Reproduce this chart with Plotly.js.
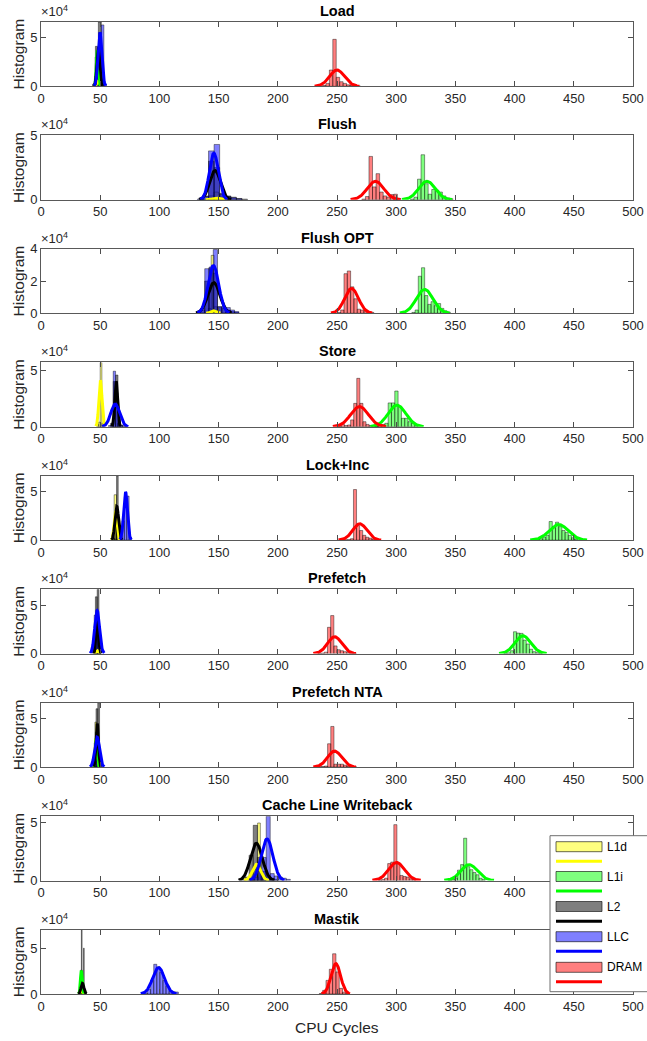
<!DOCTYPE html>
<html><head><meta charset="utf-8">
<script src="https://cdn.plot.ly/plotly-3.0.1.min.js"></script>
<style>html,body{margin:0;padding:0;background:#fff}#chart{width:647px;height:1041px}</style>
</head><body><div id="chart"></div>
<script>
// ---------------- DATA ----------------
const categories = ['L1d', 'L1i', 'L2', 'LLC', 'DRAM'];
const panelTitles = ['Load', 'Flush', 'Flush OPT', 'Store', 'Lock+Inc', 'Prefetch', 'Prefetch NTA', 'Cache Line Writeback', 'Mastik'];
const yMax = [66000, 50000, 40000, 56800, 66600, 66800, 66500, 55800, 71000];
const yTickVals = [[0, 50000], [0, 50000], [0, 20000, 40000], [0, 50000], [0, 50000], [0, 50000], [0, 50000], [0, 50000], [0, 50000]];
const yTickText = [['0', '5'], ['0', '5'], ['0', '2', '4'], ['0', '5'], ['0', '5'], ['0', '5'], ['0', '5'], ['0', '5'], ['0', '5']];
const xTickVals = [0, 50, 100, 150, 200, 250, 300, 350, 400, 450, 500];
const xLabel = 'CPU Cycles';
const yLabel = 'Histogram';
const expBase = '×10';
const expPower = '4';

// Load
const loadL1dBins = [46, 48, 50];            const loadL1dCounts = [5000, 15000, 5000];
const loadL1iBins = [46.5, 48];              const loadL1iCounts = [30000, 15000];
const loadL2Bins = [44.7, 47.2, 49.7, 52.2]; const loadL2Counts = [2000, 41000, 66000, 3000];
const loadLlcBins = [45.4, 47.6, 49.8, 52, 54.2]; const loadLlcCounts = [3000, 25000, 55000, 63000, 2000];
const loadDramBins = [239.2, 242.1, 245, 247.9, 250.8, 253.7, 256.6, 259.5, 262.4, 265.3, 268.2];
const loadDramCounts = [1000, 3000, 16700, 48200, 9200, 4700, 3000, 1500, 1000, 600, 400];
// Flush
const flushL1dBins = [144, 148, 152];        const flushL1dCounts = [3000, 6000, 2000];
const flushL1iBins = [313.5, 316.5, 319.5, 322.5, 325.5, 328.5, 331.5, 334.5, 337.5, 340.5, 343.5, 346.5];
const flushL1iCounts = [500, 2000, 16000, 35000, 12500, 4300, 8000, 7400, 6000, 3000, 1500, 800];
const flushL2Bins = [139.15, 143.85, 148.55, 153.25, 157.95, 162.65, 167.35, 172.05];
const flushL2Counts = [3000, 30000, 25000, 5000, 3000, 2000, 1000, 500];
const flushLlcBins = [134.45, 139.15, 143.85, 148.55, 153.25, 157.95, 162.65, 167.35];
const flushLlcCounts = [500, 2500, 38000, 43000, 4000, 2500, 1500, 800];
const flushDramBins = [272.5, 275.5, 278.5, 281.5, 284.5, 287.5, 290.5, 293.5, 296.5, 299.5, 302.5];
const flushDramCounts = [500, 2500, 33700, 10000, 20300, 6000, 3000, 2000, 4000, 4300, 1000];
// Flush OPT
const flushOptL1dBins = [142.5, 145, 147.5]; const flushOptL1dCounts = [3000, 36000, 4000];
const flushOptL1iBins = [314.6, 317.3, 320, 322.7, 325.4, 328.1, 330.8, 333.5, 336.2, 338.9, 341.6, 344.3];
const flushOptL1iCounts = [500, 2000, 23000, 28300, 11000, 5500, 7200, 4700, 6000, 3000, 1500, 700];
const flushOptL2Bins = [136.5, 140.1, 143.7, 147.3, 150.9, 154.5, 158.1, 161.7, 165.3];
const flushOptL2Counts = [2000, 20000, 28000, 25000, 4000, 3000, 2000, 1000, 500];
const flushOptLlcBins = [132.9, 136.5, 140.1, 143.7, 147.3, 150.9, 154.5, 158.1, 161.7, 165.3];
const flushOptLlcCounts = [500, 3000, 27700, 28700, 39600, 4000, 4000, 3500, 2000, 1000];
const flushOptDramBins = [251.7, 254.5, 257.3, 260.1, 262.9, 265.7, 268.5, 271.3, 274.1, 276.9, 279.7];
const flushOptDramCounts = [500, 2000, 24600, 26300, 16400, 9000, 2500, 2000, 1500, 800, 500];
// Store
const storeL1dBins = [47.9, 49.3, 50.7, 52.1]; const storeL1dCounts = [2000, 4000, 56800, 3000];
const storeL1iBins = [283.4, 286.2, 289, 291.8, 294.6, 297.4, 300.2, 303, 305.8, 308.6, 311.4, 314.2, 317];
const storeL1iCounts = [500, 1000, 2000, 3000, 21000, 21000, 31500, 18000, 7400, 7400, 4400, 3000, 1000];
const storeL2Bins = [60, 62, 64, 66, 68];    const storeL2Counts = [3000, 40000, 45600, 3000, 1000];
const storeLlcBins = [58, 60, 62, 64, 66, 68, 70, 72]; const storeLlcCounts = [1000, 3000, 49000, 30000, 3000, 1500, 800, 500];
const storeDramBins = [252.4, 255, 257.6, 260.2, 262.8, 265.4, 268, 270.6, 273.2, 275.8, 278.4, 281, 283.6];
const storeDramCounts = [500, 2000, 1000, 1500, 6000, 20600, 42700, 20600, 4400, 2000, 1000, 800, 500];
// Lock+Inc
const lockL1dBins = [60.8, 62.8, 64.8];      const lockL1dCounts = [5000, 47000, 10000];
const lockL1iBins = [417, 419.7, 422.4, 425.1, 427.8, 430.5, 433.2, 435.9, 438.6, 441.3, 444, 446.7, 449.4, 452.1];
const lockL1iCounts = [300, 800, 1500, 3000, 5000, 19300, 14000, 18600, 14000, 10000, 8000, 5000, 2500, 1000];
const lockL2Bins = [61.7, 63.1, 64.5, 65.9, 67.3]; const lockL2Counts = [2000, 15000, 66600, 8000, 2000];
const lockLlcBins = [67.4, 69.4, 71.4, 73.4, 75.4]; const lockLlcCounts = [2000, 20000, 45000, 45600, 3000];
const lockDramBins = [257.4, 260, 262.6, 265.2, 267.8, 270.4, 273, 275.6, 278.2, 280.8, 283.4];
const lockDramCounts = [300, 500, 1500, 52400, 15000, 10000, 5000, 3000, 2000, 1000, 500];
// Prefetch
const prefL1dBins = [46.5, 48];              const prefL1dCounts = [3000, 2000];
const prefL1iBins = [392.3, 395, 397.7, 400.4, 403.1, 405.8, 408.5, 411.2, 413.9, 416.6, 419.3, 422];
const prefL1iCounts = [300, 800, 3000, 22700, 21300, 21000, 14000, 10000, 4500, 2000, 1000, 500];
const prefL2Bins = [45.2, 46.7, 48.2, 49.7]; const prefL2Counts = [5000, 59000, 66800, 4000];
const prefLlcBins = [44.2, 45.7, 47.2, 48.7, 50.2]; const prefLlcCounts = [10000, 40000, 45000, 30000, 5000];
const prefDramBins = [235.2, 237.9, 240.6, 243.3, 246, 248.7, 251.4, 254.1, 256.8, 259.5, 262.2, 264.9];
const prefDramCounts = [300, 500, 1500, 27300, 39500, 8000, 4000, 3000, 2000, 1000, 800, 500];
// Prefetch NTA
const ntaL1dBins = [44.8, 46.3, 47.8];       const ntaL1dCounts = [5000, 46500, 10000];
const ntaL1iBins = [45.2, 46.7, 48.2];       const ntaL1iCounts = [3000, 36000, 8000];
const ntaL2Bins = [45.7, 47.2, 48.7, 50.2];  const ntaL2Counts = [5000, 60300, 66500, 3000];
const ntaLlcBins = [44.2, 45.7, 47.2, 48.7, 50.2]; const ntaLlcCounts = [8000, 25000, 31000, 25000, 5000];
const ntaDramBins = [235.3, 238, 240.7, 243.4, 246.1, 248.8, 251.5, 254.2, 256.9, 259.6, 262.3, 265];
const ntaDramCounts = [300, 500, 1000, 24100, 42000, 3000, 3000, 3000, 2000, 1000, 700, 400];
// Cache Line Writeback
const clwL1dBins = [177.2, 179.5, 181.8, 184.1, 186.4, 188.7]; const clwL1dCounts = [1000, 3000, 10000, 49900, 8000, 2000];
const clwL1iBins = [345.25, 347.85, 350.45, 353.05, 355.65, 358.25, 360.85, 363.45, 366.05, 368.65, 371.25, 373.85];
const clwL1iCounts = [300, 1000, 2000, 9000, 13800, 36700, 12000, 9400, 7000, 5000, 2000, 800];
const clwL2Bins = [170.5, 174, 177.5, 181, 184.5, 188, 191.5, 195, 198.5];
const clwL2Counts = [1000, 3000, 22000, 47900, 20000, 8000, 3000, 2000, 1000];
const clwLlcBins = [178.3, 181.7, 185.1, 188.5, 191.9, 195.3, 198.7, 202.1, 205.5, 208.9];
const clwLlcCounts = [1000, 3000, 8000, 20000, 55800, 6000, 4000, 3000, 2000, 1000];
const clwDramBins = [286.3, 288.9, 291.5, 294.1, 296.7, 299.3, 301.9, 304.5, 307.1, 309.7, 312.3, 314.9];
const clwDramCounts = [300, 800, 2000, 14700, 16000, 48500, 14700, 4400, 3500, 3000, 1500, 800];
// Mastik
const mastikL1dBins = [33.5, 34.5];          const mastikL1dCounts = [5000, 3000];
const mastikL1iBins = [32.7, 34.1, 35.5];    const mastikL1iCounts = [2000, 26200, 1000];
const mastikL2Bins = [34.4, 35, 35.6, 36.2]; const mastikL2Counts = [71000, 8000, 3000, 50600];
const mastikLlcBins = [86.1, 88.7, 91.3, 93.9, 96.5, 99.1, 101.7, 104.3, 106.9, 109.5, 112.1, 114.7];
const mastikLlcCounts = [300, 800, 5000, 15000, 32800, 29900, 24000, 15000, 9000, 3000, 2500, 2200];
const mastikDramBins = [236.5, 239.3, 242.1, 244.9, 247.7, 250.5, 253.3, 256.1, 258.9];
const mastikDramCounts = [500, 4000, 15000, 27300, 44400, 24400, 6200, 2000, 500];

// Normal-fit parameters (one value per panel, panel order as panelTitles)
const fitMuL1d    = [48, 148, 145.5, 50.2, 63, 47.5, 46.5, 182, 34];
const fitSigmaL1d = [1, 3, 2, 1.3, 1.2, 1, 1, 3.5, 0.8];
const fitPeakL1d  = [5000, 1200, 1500, 41000, 30000, 3000, 30000, 14000, 4000];
const fitMuL1i    = [47.5, 326, 324, 300.7, 437.2, 407, 46.7, 361.6, 34];
const fitSigmaL1i = [0.8, 7, 7, 7.5, 8, 6.7, 0.8, 7, 0.7];
const fitPeakL1i  = [37000, 14300, 14800, 19000, 16200, 18500, 30000, 13800, 26000];
const fitMuL2     = [48.5, 147, 146, 63.5, 64, 47.5, 47.5, 181.9, 35];
const fitSigmaL2  = [1.2, 4.5, 5, 1.2, 1.5, 1, 1, 5, 1.2];
const fitPeakL2   = [40000, 22700, 19000, 40000, 35000, 40000, 45000, 32300, 11700];
const fitMuLlc    = [49.8, 146, 145.6, 62.7, 71.4, 47.4, 47.4, 190.9, 99.3];
const fitSigmaLlc = [1.6, 3.8, 4.5, 3.7, 1.6, 2, 2, 4.9, 5];
const fitPeakLlc  = [55400, 36200, 29700, 20000, 50000, 44800, 31000, 36100, 29100];
const fitMuDram   = [250, 282.5, 262.3, 269, 269.3, 248, 248, 300.3, 249];
const fitSigmaDram= [6.3, 7, 5.8, 7.5, 6, 6, 6, 6.8, 4];
const fitPeakDram = [16700, 14300, 15400, 17700, 16900, 17500, 16500, 15600, 33500];

// ---------------- ASSEMBLY ----------------
const hist = [
  [[loadL1dBins, loadL1dCounts], [loadL1iBins, loadL1iCounts], [loadL2Bins, loadL2Counts], [loadLlcBins, loadLlcCounts], [loadDramBins, loadDramCounts]],
  [[flushL1dBins, flushL1dCounts], [flushL1iBins, flushL1iCounts], [flushL2Bins, flushL2Counts], [flushLlcBins, flushLlcCounts], [flushDramBins, flushDramCounts]],
  [[flushOptL1dBins, flushOptL1dCounts], [flushOptL1iBins, flushOptL1iCounts], [flushOptL2Bins, flushOptL2Counts], [flushOptLlcBins, flushOptLlcCounts], [flushOptDramBins, flushOptDramCounts]],
  [[storeL1dBins, storeL1dCounts], [storeL1iBins, storeL1iCounts], [storeL2Bins, storeL2Counts], [storeLlcBins, storeLlcCounts], [storeDramBins, storeDramCounts]],
  [[lockL1dBins, lockL1dCounts], [lockL1iBins, lockL1iCounts], [lockL2Bins, lockL2Counts], [lockLlcBins, lockLlcCounts], [lockDramBins, lockDramCounts]],
  [[prefL1dBins, prefL1dCounts], [prefL1iBins, prefL1iCounts], [prefL2Bins, prefL2Counts], [prefLlcBins, prefLlcCounts], [prefDramBins, prefDramCounts]],
  [[ntaL1dBins, ntaL1dCounts], [ntaL1iBins, ntaL1iCounts], [ntaL2Bins, ntaL2Counts], [ntaLlcBins, ntaLlcCounts], [ntaDramBins, ntaDramCounts]],
  [[clwL1dBins, clwL1dCounts], [clwL1iBins, clwL1iCounts], [clwL2Bins, clwL2Counts], [clwLlcBins, clwLlcCounts], [clwDramBins, clwDramCounts]],
  [[mastikL1dBins, mastikL1dCounts], [mastikL1iBins, mastikL1iCounts], [mastikL2Bins, mastikL2Counts], [mastikLlcBins, mastikLlcCounts], [mastikDramBins, mastikDramCounts]]
];
const fits = [
  [fitMuL1d, fitSigmaL1d, fitPeakL1d], [fitMuL1i, fitSigmaL1i, fitPeakL1i], [fitMuL2, fitSigmaL2, fitPeakL2],
  [fitMuLlc, fitSigmaLlc, fitPeakLlc], [fitMuDram, fitSigmaDram, fitPeakDram]
];

const faceColors = ['rgba(255,255,0,0.5)', 'rgba(0,255,0,0.5)', 'rgba(0,0,0,0.5)', 'rgba(0,0,255,0.5)', 'rgba(255,0,0,0.5)'];
const lineColors = ['#ffff00', '#00ff00', '#000000', '#0000ff', '#ff0000'];
const edgeColor = 'rgba(0,0,0,0.7)';

const W = 647, H = 1041, ML = 41, MR = 14, MT = 22, MB = 47;
const PW = W - ML - MR, PH = H - MT - MB;
const firstTop = 22, plotH = 64.3, pitch = 113.46;
const FONT = 'Liberation Sans, Arial, Helvetica, sans-serif';
const TXT = '#262626';
function yp(py) { return (H - MB - py) / PH; }
function xp(px) { return (px - ML) / PW; }

const traces = [];
const layout = {
  width: W, height: H, margin: {l: ML, r: MR, t: MT, b: MB},
  paper_bgcolor: '#fff', plot_bgcolor: '#fff', showlegend: false, barmode: 'overlay',
  font: {family: FONT, size: 13, color: TXT},
  annotations: [], shapes: []
};

panelTitles.forEach((title, k) => {
  const sfx = k === 0 ? '' : String(k + 1);
  const top = firstTop + k * pitch, bot = top + plotH;
  layout['xaxis' + sfx] = {
    domain: [0, 1], anchor: 'y' + sfx, range: [0, 500], tickvals: xTickVals,
    ticks: 'inside', ticklen: 5, tickwidth: 1, tickcolor: '#4d4d4d',
    showline: true, linecolor: '#595959', linewidth: 1, mirror: 'ticks',
    showgrid: false, zeroline: false, tickfont: {family: FONT, size: 13, color: TXT}, fixedrange: true
  };
  layout['yaxis' + sfx] = {
    domain: [yp(bot), yp(top)], anchor: 'x' + sfx, range: [0, yMax[k]],
    tickvals: yTickVals[k], ticktext: yTickText[k],
    ticks: 'inside', ticklen: 5, tickwidth: 1, tickcolor: '#4d4d4d',
    showline: true, linecolor: '#595959', linewidth: 1, mirror: 'ticks',
    showgrid: false, zeroline: false, tickfont: {family: FONT, size: 13, color: TXT}, fixedrange: true,
    title: {text: yLabel, font: {family: FONT, size: 15.5, color: TXT}, standoff: 1}
  };
  for (let c = 0; c < categories.length; c++) {
    const [bins, counts] = hist[k][c];
    const w = bins.length > 1 ? bins[1] - bins[0] : 1;
    traces.push({
      type: 'bar', x: bins, y: counts, width: w, xaxis: 'x' + sfx, yaxis: 'y' + sfx,
      marker: {color: faceColors[c], line: {color: edgeColor, width: 0.6}},
      hoverinfo: 'skip', name: categories[c]
    });
    const mu = fits[c][0][k], sg = fits[c][1][k], pk = fits[c][2][k];
    const fx = [], fy = [];
    for (let i = 0; i <= 80; i++) {
      const x = mu - 3 * sg + (6 * sg) * i / 80;
      fx.push(x); fy.push(pk * Math.exp(-0.5 * Math.pow((x - mu) / sg, 2)));
    }
    traces.push({
      type: 'scatter', mode: 'lines', x: fx, y: fy, xaxis: 'x' + sfx, yaxis: 'y' + sfx,
      line: {color: lineColors[c], width: 3}, hoverinfo: 'skip', name: categories[c] + ' fit'
    });
  }
  // panel title
  layout.annotations.push({
    xref: 'paper', yref: 'paper', x: 0.5, y: yp(top - 1), xanchor: 'center', yanchor: 'bottom',
    text: '<b>' + title + '</b>', showarrow: false, font: {family: FONT, size: 14.5, color: '#000'}
  });
  // exponent label (base and power as separate texts)
  layout.annotations.push({
    xref: 'paper', yref: 'paper', x: xp(39), y: yp(top - 1), xanchor: 'left', yanchor: 'bottom',
    text: expBase, showarrow: false, font: {family: FONT, size: 13, color: TXT}
  });
  layout.annotations.push({
    xref: 'paper', yref: 'paper', x: xp(61), y: yp(top - 7), xanchor: 'left', yanchor: 'bottom',
    text: expPower, showarrow: false, font: {family: FONT, size: 9, color: TXT}
  });
});

// x label
layout.annotations.push({
  xref: 'paper', yref: 'paper', x: 0.5, y: yp(1027), xanchor: 'center', yanchor: 'middle',
  text: xLabel, showarrow: false, font: {family: FONT, size: 15.5, color: TXT}
});

// legend (drawn manually to match original layout)
const lgLeft = 550, lgTop = 835.7, lgBot = 991.7;
layout.shapes.push({type: 'rect', xref: 'paper', yref: 'paper', layer: 'above',
  x0: xp(lgLeft), x1: xp(660), y0: yp(lgBot), y1: yp(lgTop),
  fillcolor: '#ffffff', line: {color: '#6e6e6e', width: 1}});
const patchTops = [841.7, 871.5, 901.5, 931.7, 962.3];
const lineYs = [861.3, 890.9, 921.3, 951.3, 981.7];
categories.forEach((cat, c) => {
  layout.shapes.push({type: 'rect', xref: 'paper', yref: 'paper', layer: 'above',
    x0: xp(556), x1: xp(602), y0: yp(patchTops[c] + 10), y1: yp(patchTops[c]),
    fillcolor: faceColors[c], line: {color: 'rgba(0,0,0,0.75)', width: 0.8}});
  layout.shapes.push({type: 'line', xref: 'paper', yref: 'paper', layer: 'above',
    x0: xp(556), x1: xp(602), y0: yp(lineYs[c]), y1: yp(lineYs[c]),
    line: {color: lineColors[c], width: 3}});
  layout.annotations.push({xref: 'paper', yref: 'paper', x: xp(605), y: yp(patchTops[c] + 5),
    xanchor: 'left', yanchor: 'middle', text: cat, showarrow: false,
    font: {family: FONT, size: 12, color: '#000'}});
});

Plotly.newPlot('chart', traces, layout, {staticPlot: true, displayModeBar: false});
</script></body></html>
